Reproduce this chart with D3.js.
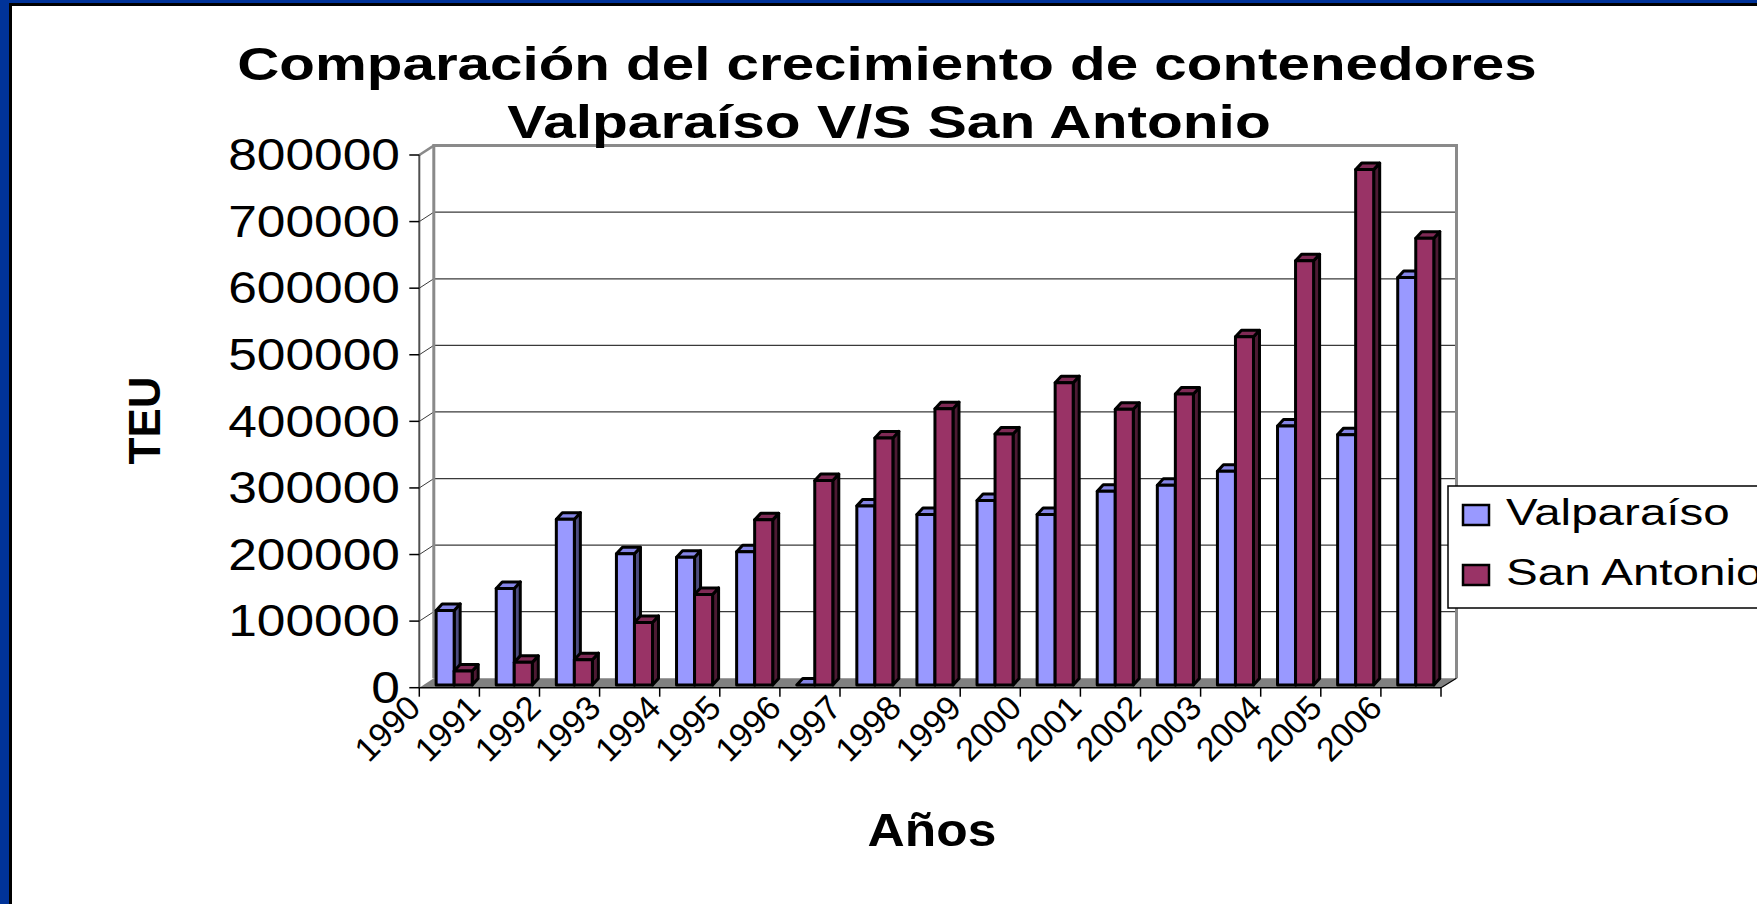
<!DOCTYPE html>
<html>
<head>
<meta charset="utf-8">
<script src="https://cdn.jsdelivr.net/npm/d3@7/dist/d3.min.js"></script>
<style>
  html, body { margin: 0; padding: 0; background: #ffffff; overflow: hidden; }
  svg { display: block; }
  text { font-family: "Liberation Sans", Arial, sans-serif; fill: #000; }
</style>
</head>
<body>
<svg id="chart" width="1757" height="904"></svg>
<script>
// ---------------- data ----------------
const years = ["1990","1991","1992","1993","1994","1995","1996","1997","1998","1999","2000","2001","2002","2003","2004","2005","2006"];
const valparaiso = [112000,145000,249000,197000,192000,200000,0,269000,256000,277000,256000,291000,300000,321000,389000,376000,612000];
const sanAntonio = [21000,34000,38000,94000,136000,248000,307000,371000,415000,377000,454000,414000,437000,523000,637000,774000,671000];
const seriesNames = ["Valparaíso","San Antonio"];
const yTicks = [0,100000,200000,300000,400000,500000,600000,700000,800000];
const titleLines = ["Comparación del crecimiento de contenedores","Valparaíso V/S San Antonio"];
const yTitle = "TEU";
const xTitle = "Años";

// ---------------- styles ----------------
const faceColors = [
  {front:"#9999FF", top:"#8585E6", side:"#4D4D80"},
  {front:"#993366", top:"#7F2A55", side:"#4D1A33"}
];

// ---------------- geometry ----------------
const svg = d3.select("#chart");
const W = 1757, H = 904;
const front = {x0: 419.3, x1: 1441, y0: 687.7, yTop: 155};
const DX = 14.5, DY = -9.4;            // floor depth
const bar = {ox: 0, oy: -2.7, dx: 6, dy: -6.5};  // bar plane offset & bar depth

const x = d3.scaleBand().domain(years).range([front.x0, front.x1]).padding(0);
const y = d3.scaleLinear().domain([0, 800000]).range([front.y0, front.yTop]);
const yBack = v => y(v) + DY;
const yBar = v => y(v) + bar.oy;

// frame
svg.append("rect").attr("x",0).attr("y",0).attr("width",W).attr("height",H).attr("fill","#ffffff");
svg.append("rect").attr("x",0).attr("y",0).attr("width",W).attr("height",3).attr("fill","#003399");
svg.append("rect").attr("x",0).attr("y",3).attr("width",W).attr("height",3).attr("fill","#000");
svg.append("rect").attr("x",0).attr("y",0).attr("width",9).attr("height",H).attr("fill","#003399");
svg.append("rect").attr("x",9).attr("y",3).attr("width",3).attr("height",H).attr("fill","#000");

const g = svg.append("g");

// back wall
const bx0 = front.x0 + DX, bx1 = front.x1 + DX + 1;
g.append("rect").attr("x", bx0).attr("y", yBack(800000)).attr("width", bx1 - bx0)
  .attr("height", yBack(0) - yBack(800000)).attr("fill","#fff");
// left side wall
g.append("polygon")
  .attr("points", [[front.x0, y(800000)],[bx0, yBack(800000)],[bx0, yBack(0)],[front.x0, y(0)]].map(p=>p.join(",")).join(" "))
  .attr("fill","#fff");

// gridlines on back wall + side wall diagonals
g.selectAll(".grid").data(yTicks.filter(v => v > 0 && v < 800000)).enter().append("line")
  .attr("x1", bx0).attr("x2", bx1).attr("y1", d => yBack(d)).attr("y2", d => yBack(d))
  .attr("stroke","#3a3a3a").attr("stroke-width",1.3);
g.selectAll(".diag").data(yTicks.filter(v => v > 0)).enter().append("line")
  .attr("x1", front.x0).attr("x2", bx0).attr("y1", d => y(d)).attr("y2", d => yBack(d))
  .attr("stroke","#3a3a3a").attr("stroke-width",1);

// wall borders
g.append("path")
  .attr("d", `M${bx0},${yBack(0)} L${bx0},${yBack(800000)} L${bx1},${yBack(800000)} L${bx1},${yBack(0)}`)
  .attr("fill","none").attr("stroke","#8a8a8a").attr("stroke-width",3);
g.append("line").attr("x1", front.x0).attr("y1", y(800000)).attr("x2", bx0).attr("y2", yBack(800000))
  .attr("stroke","#8a8a8a").attr("stroke-width",2.5);

// floor
g.append("polygon")
  .attr("points", [[front.x0, y(0)],[front.x1, y(0)],[front.x1+DX+1, yBack(0)],[bx0, yBack(0)]].map(p=>p.join(",")).join(" "))
  .attr("fill","#808080");

// front value axis line
g.append("line").attr("x1", front.x0).attr("x2", front.x0).attr("y1", y(800000)).attr("y2", y(0))
  .attr("stroke","#505050").attr("stroke-width",2);

// y ticks & labels
const yAxisG = g.append("g");
yAxisG.selectAll("line").data(yTicks).enter().append("line")
  .attr("x1", front.x0 - 10).attr("x2", front.x0).attr("y1", d => y(d)).attr("y2", d => y(d))
  .attr("stroke","#000").attr("stroke-width",1.5);
yAxisG.selectAll("text").data(yTicks).enter().append("text")
  .attr("transform", d => `translate(400,${y(d)}) scale(1.17,1)`)
  .attr("text-anchor","end").attr("dominant-baseline","central")
  .attr("font-size", 44).text(d => d3.format("d")(d));

// x axis line, ticks
g.append("line").attr("x1", front.x0).attr("x2", front.x1).attr("y1", y(0)).attr("y2", y(0))
  .attr("stroke","#000").attr("stroke-width",1.5);
g.append("line").attr("x1", front.x1).attr("x2", front.x1+DX+1).attr("y1", y(0)).attr("y2", yBack(0))
  .attr("stroke","#000").attr("stroke-width",1.2);
const tickXs = years.map(d => x(d)).concat([front.x1]);
g.selectAll(".xt").data(tickXs).enter().append("line")
  .attr("x1", d => d).attr("x2", d => d).attr("y1", y(0)).attr("y2", y(0) + 9)
  .attr("stroke","#000").attr("stroke-width",1.5);
g.selectAll(".xl").data(years).enter().append("text")
  .attr("transform", d => `translate(${x(d) + 3},710) rotate(-45)`)
  .attr("text-anchor","end").attr("font-size", 34).text(d => d);

// bars
const bw = x.bandwidth() * 0.30;
const boff = x.bandwidth() * 0.28;
const barsData = [];
years.forEach((yr, i) => {
  [valparaiso[i], sanAntonio[i]].forEach((v, s) => {
    barsData.push({yr, v, s});
  });
});
const barG = g.append("g");
const one = barG.selectAll("g.bar").data(barsData).enter().append("g").attr("class","bar");
function pts(arr){ return arr.map(p => p.join(",")).join(" "); }
one.each(function(d){
  const el = d3.select(this);
  const xl = x(d.yr) + boff + d.s * bw + bar.ox;
  const xr = xl + bw;
  const yt = yBar(d.v), yb = yBar(0);
  const c = faceColors[d.s];
  // side face
  el.append("polygon").attr("points", pts([[xr,yb],[xr,yt],[xr+bar.dx,yt+bar.dy],[xr+bar.dx,yb+bar.dy]]))
    .attr("fill", c.side).attr("stroke","#000").attr("stroke-width",3).attr("stroke-linejoin","round");
  // top face
  el.append("polygon").attr("points", pts([[xl,yt],[xr,yt],[xr+bar.dx,yt+bar.dy],[xl+bar.dx,yt+bar.dy]]))
    .attr("fill", c.top).attr("stroke","#000").attr("stroke-width",3).attr("stroke-linejoin","round");
  // front face
  el.append("rect").attr("x", xl).attr("y", yt).attr("width", bw).attr("height", yb - yt)
    .attr("fill", c.front).attr("stroke","#000").attr("stroke-width",3).attr("stroke-linejoin","round");
});

// titles
svg.append("text").attr("transform","translate(887,80) scale(1.268,1)")
  .attr("text-anchor","middle").attr("font-size",46).attr("font-weight","bold").text(titleLines[0]);
svg.append("text").attr("transform","translate(889,138) scale(1.275,1)")
  .attr("text-anchor","middle").attr("font-size",46).attr("font-weight","bold").text(titleLines[1]);

svg.append("text").attr("transform","translate(160,420.5) rotate(-90)")
  .attr("text-anchor","middle").attr("font-size",44).attr("font-weight","bold").text(yTitle);
svg.append("text").attr("transform","translate(932,846) scale(1.12,1)")
  .attr("text-anchor","middle").attr("font-size",46).attr("font-weight","bold").text(xTitle);

// legend
const lg = svg.append("g");
lg.append("rect").attr("x",1448).attr("y",486).attr("width",330).attr("height",122)
  .attr("fill","#fff").attr("stroke","#000").attr("stroke-width",1.5);
const legY = [505, 565];
lg.selectAll("rect.m").data(seriesNames).enter().append("rect").attr("class","m")
  .attr("x",1463).attr("y",(d,i)=>legY[i]).attr("width",26).attr("height",20)
  .attr("fill",(d,i)=>faceColors[i].front).attr("stroke","#000").attr("stroke-width",2.5);
lg.selectAll("text").data(seriesNames).enter().append("text")
  .attr("transform",(d,i)=>`translate(1506,${legY[i]+20}) scale(1.285,1)`)
  .attr("font-size",37).text(d=>d);
</script>
</body>
</html>
